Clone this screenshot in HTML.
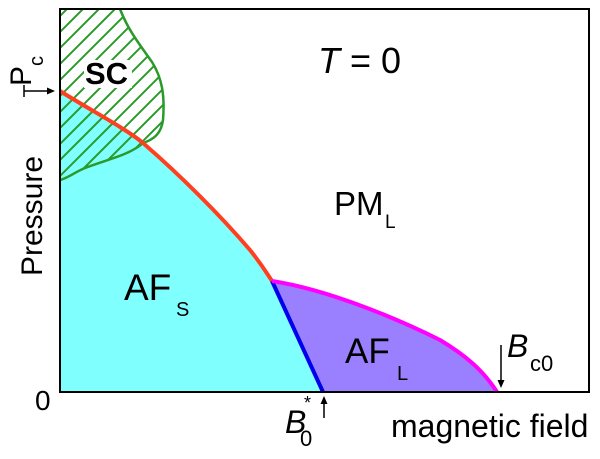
<!DOCTYPE html>
<html><head><meta charset="utf-8"><style>
html,body{margin:0;padding:0;background:#fff}
svg{display:block}
text{font-family:"Liberation Sans",Arial,sans-serif;fill:#000}
</style></head><body>
<svg width="600" height="459" viewBox="0 0 600 459" xmlns="http://www.w3.org/2000/svg">
<defs>
<clipPath id="sc"><path d="M60,9 L120,9 C128,30 140,45 152,62 C162,78 165,95 163,120 C161,135 152,140 143,143 C130,155 105,160 85,168 C75,172 68,178 60,180 Z"/></clipPath>
</defs>
<path d="M60,91 C90,110 125,128 143,143 C180,175 220,215 250,250 C262,265 268,275 272,281 L323,392 L60,392 Z" fill="#80ffff"/>
<path d="M272,281 C330,290 400,320 440,340 C465,355 483,370 497,392 L323,392 Z" fill="#9a80ff"/>
<g clip-path="url(#sc)" stroke="#2a9a2a" stroke-width="2">
<line x1="0" y1="60" x2="200" y2="-140"/><line x1="0" y1="76" x2="200" y2="-124"/><line x1="0" y1="92" x2="200" y2="-108"/><line x1="0" y1="108" x2="200" y2="-92"/><line x1="0" y1="124" x2="200" y2="-76"/><line x1="0" y1="140" x2="200" y2="-60"/><line x1="0" y1="156" x2="200" y2="-44"/><line x1="0" y1="172" x2="200" y2="-28"/><line x1="0" y1="188" x2="200" y2="-12"/><line x1="0" y1="204" x2="200" y2="4"/><line x1="0" y1="220" x2="200" y2="20"/><line x1="0" y1="236" x2="200" y2="36"/><line x1="0" y1="252" x2="200" y2="52"/><line x1="0" y1="268" x2="200" y2="68"/><line x1="0" y1="284" x2="200" y2="84"/><line x1="0" y1="300" x2="200" y2="100"/><line x1="0" y1="316" x2="200" y2="116"/><line x1="0" y1="332" x2="200" y2="132"/><line x1="0" y1="348" x2="200" y2="148"/><line x1="0" y1="364" x2="200" y2="164"/>
</g>
<path d="M120,9 C128,30 140,45 152,62 C162,78 165,95 163,120 C161,135 152,140 143,143 C130,155 105,160 85,168 C75,172 68,178 60,180" fill="none" stroke="#2a9a2a" stroke-width="2.5"/>
<rect x="84" y="60" width="48" height="28" fill="#fff"/>
<text x="85" y="84" font-size="31" font-weight="bold">SC</text>
<path d="M60,91 C90,110 125,128 143,143 C180,175 220,215 250,250 C262,265 268,275 272,281" fill="none" stroke="#ff4020" stroke-width="4"/>
<path d="M272,281 L323,392" stroke="#0000ee" stroke-width="4"/>
<path d="M272,281 C330,290 400,320 440,340 C465,355 483,370 497,392" fill="none" stroke="#ff00ff" stroke-width="4"/>
<rect x="60" y="9" width="529" height="383" fill="none" stroke="#000" stroke-width="2"/>
<text x="318" y="73" font-size="36"><tspan font-style="italic">T</tspan> = 0</text>
<text x="334" y="215" font-size="33">PM</text><text x="385" y="228" font-size="19">L</text>
<text x="124" y="300" font-size="37">AF</text><text x="176" y="316" font-size="20">S</text>
<text x="345" y="363" font-size="35">AF</text><text x="397" y="380" font-size="20">L</text>
<text transform="translate(42,276) rotate(-90)" font-size="30">Pressure</text>
<text transform="translate(31,86) rotate(-90)" font-size="30">P</text>
<text transform="translate(43,66) rotate(-90)" font-size="20">c</text>
<line x1="24" y1="85" x2="24" y2="97" stroke="#000" stroke-width="1.5"/>
<line x1="24" y1="91" x2="50" y2="91" stroke="#000" stroke-width="1.5"/>
<path d="M55,91 L47,87.5 L47,94.5 Z" fill="#000"/>
<text x="35" y="410" font-size="28">0</text>
<text x="285" y="433" font-size="32" font-style="italic">B</text>
<text x="304" y="409" font-size="18">*</text>
<text x="300" y="446" font-size="22">0</text>
<line x1="324" y1="418" x2="324" y2="402" stroke="#000" stroke-width="1.5"/>
<path d="M324,396 L320.5,404 L327.5,404 Z" fill="#000"/>
<text x="391" y="437" font-size="32">magnetic field</text>
<line x1="501" y1="345" x2="501" y2="381" stroke="#000" stroke-width="1.5"/>
<path d="M501,388 L497.5,380 L504.5,380 Z" fill="#000"/>
<text x="507" y="357" font-size="32" font-style="italic">B</text>
<text x="530" y="371" font-size="22">c0</text>
</svg>
</body></html>
